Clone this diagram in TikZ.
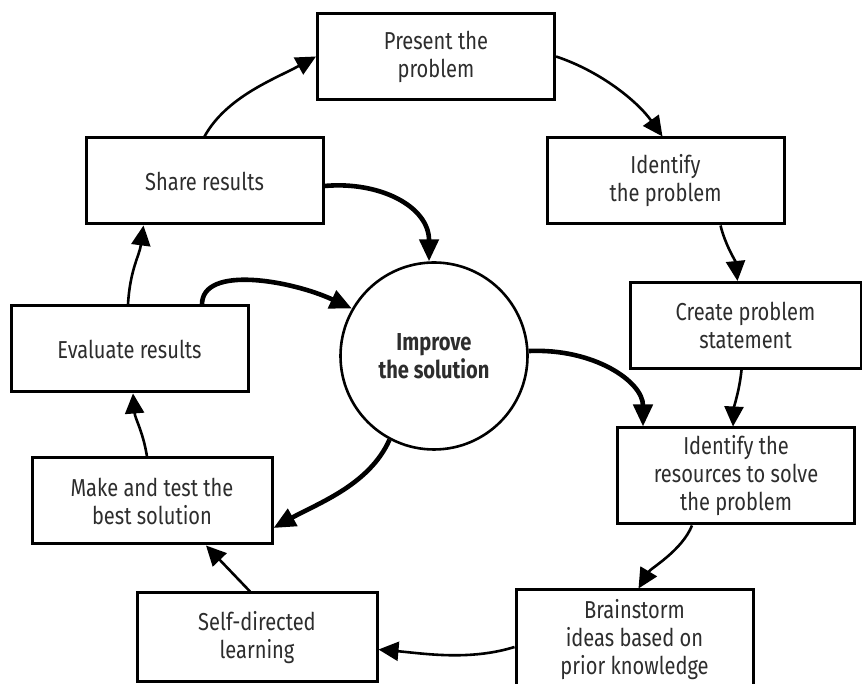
\documentclass[tikz,border=0pt]{standalone}
\usepackage{fontspec}
\setmainfont{Fira Sans}[FakeStretch=0.82]
\usepackage{xcolor}
\usepackage{tikz}
\usetikzlibrary{positioning,arrows.meta,calc}
\definecolor{textgray}{RGB}{45,45,45}
\tikzset{
    stage/.style={draw=black, fill=white, line width=3pt, align=center, text=textgray, font=\fontsize{24.5}{28}\selectfont, minimum width=237pt, minimum height=86pt, inner sep=0pt},
    hub/.style={draw=black, fill=white, circle, line width=2.6pt, align=center, text=textgray, font=\fontsize{24.5}{28}\selectfont\bfseries, minimum size=187pt, inner sep=0pt},
    flow/.style={-{Triangle[length=20pt,width=19pt]}, line width=2.6pt},
    loop/.style={-{Triangle[length=22pt,width=19pt]}, line width=4.6pt}
}

\begin{document}
\begin{tikzpicture}[x=1pt,y=1pt]
\useasboundingbox (0,0) rectangle (862,684);
% stages round the cycle
\node[stage] (present) at (436,627.5) {Present the\\problem};
\node[stage] (idprob) at (665.5,503) {Identify\\the problem};
\node[stage, minimum width=231pt] (create) at (745.5,358.5) {Create problem\\statement};
\node[stage, minimum height=96pt] (idres) at (736,208) {Identify the\\resources to solve\\the problem};
\node[stage, minimum height=100pt] (brain) at (634.5,44) {Brainstorm\\ideas based on\\prior knowledge};
\node[stage, minimum width=240pt, minimum height=89pt] (self) at (257,46.5) {Self-directed\\learning};
\node[stage, minimum width=240pt] (make) at (152,183) {Make and test the\\best solution};
\node[stage] (eval) at (129.5,335) {Evaluate results};
\node[stage] (share) at (204.5,503) {Share results};
\node[hub] (imp) at (434,328) {Improve\\the solution};

% outer cycle
\draw[flow] (share.north) .. controls +(22,40) and +(-40,-22) .. (present.west);
\draw[flow] (present.east) .. controls +(45,-15) and +(-25,35) .. ([xshift=-3pt]idprob.north);
\draw[flow] ([xshift=55pt]idprob.south) .. controls +(5,-20) and +(-2,20) .. ([xshift=-8pt]create.north);
\draw[flow] ([xshift=-4pt]create.south) .. controls +(-2,-20) and +(1,20) .. ([xshift=-3pt]idres.north);
\draw[flow] ([xshift=-44pt]idres.south) .. controls +(-10,-25) and +(12,20) .. ([xshift=4pt]brain.north);
\draw[flow] ([yshift=-7pt]brain.west) .. controls +(-45,-14) and +(45,-4) .. ([yshift=-12pt]self.east);
\draw[flow] ([xshift=-7pt]self.north) -- ([xshift=54pt]make.south);
\draw[flow] ([xshift=-5pt]make.north) .. controls +(-4,25) and +(2,-25) .. ([xshift=3.5pt]eval.south);
\draw[flow] ([xshift=-1.5pt]eval.north) .. controls +(2,35) and +(-4,-30) .. ([xshift=-61pt]share.south);

% links to and from the hub
\draw[loop] ([yshift=-5pt]share.east) .. controls +(55,5) and +(0,55) .. (imp.93);
\draw[loop] ([xshift=72.5pt]eval.north) .. controls +(0,40) and +(-60,28) .. (imp.150);
\draw[loop] (imp.3) .. controls +(65,3) and +(0,45) .. ([xshift=-93pt]idres.north);
\draw[loop] (imp.242) .. controls +(-20,-45) and +(45,25) .. ([yshift=-27pt]make.east);
\end{tikzpicture}
\end{document}
